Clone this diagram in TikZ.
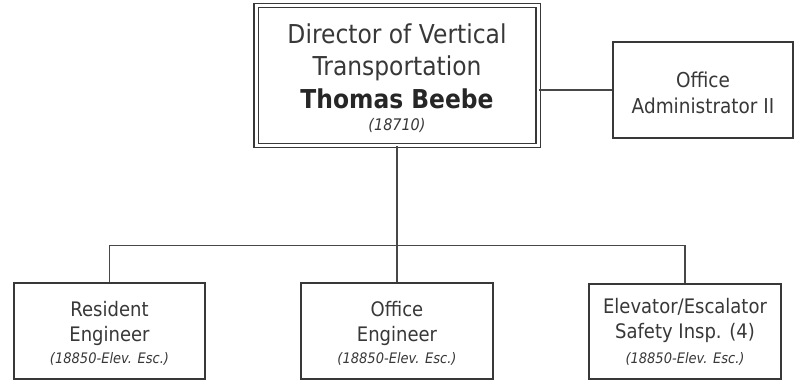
\documentclass[tikz,border=0pt]{standalone}
\usepackage{fontspec}
\setmainfont{DejaVu Sans}[FakeStretch=0.9]
\begin{document}
\begin{tikzpicture}[x=1pt,y=-1pt,
  ink/.style={draw=black!78, line width=1.2pt},
  box/.style={ink, fill=white, inner sep=0pt},
  wire/.style={draw=black!72, line width=1.1pt},
  txt/.style={anchor=base, inner sep=0pt, text=black!78},
  big/.style={txt, font=\fontsize{26}{30}\selectfont},
  mid/.style={txt, font=\fontsize{20}{24}\selectfont},
  code/.style={txt, font=\fontsize{14.5}{17}\selectfont\itshape}]
\useasboundingbox (0,0) rectangle (795,383);

% boxes
\node[box, double=white, double distance=3pt, minimum width=282pt, minimum height=140pt] (dir) at (397,75.5) {};
\node[box, minimum width=180pt, minimum height=96pt] (adm) at (703,90) {};
\node[box, minimum width=191pt, minimum height=96pt] (res) at (109.5,331) {};
\node[box, minimum width=192pt, minimum height=96pt] (offe) at (397,331) {};
\node[box, minimum width=192pt, minimum height=95pt] (elev) at (685,331.5) {};

% connectors
\draw[wire] (dir.east |- adm.west) -- (adm.west);
\draw[wire] (dir.south) -- (offe.north);
\draw[wire] (res.north) -- ++(0,-37) -| (elev.north);

% director
\node[big] (d1) at (397,43) {Director of Vertical};
\node[big] (d2) at (397,75) {Transportation};
\node[big, font=\fontsize{26}{30}\selectfont\bfseries, text=black!85] (d3) at (397,108) {Thomas Beebe};
\node[code, font=\fontsize{16}{19}\selectfont\itshape] (d4) at (397,130) {(18710)};

% office administrator
\node[mid, font=\fontsize{20.5}{24}\selectfont] (a1) at (703,87) {Office};
\node[mid, font=\fontsize{20.5}{24}\selectfont] (a2) at (703,113) {Administrator II};

% resident engineer
\node[mid] (r1) at (109.5,316) {Resident};
\node[mid] (r2) at (109.5,341) {Engineer};
\node[code] (r3) at (109.5,363) {(18850-Elev. Esc.)};

% office engineer
\node[mid] (o1) at (397,316) {Office};
\node[mid] (o2) at (397,341) {Engineer};
\node[code] (o3) at (397,363) {(18850-Elev. Esc.)};

% elevator / escalator safety inspector
\node[mid] (e1) at (685,313) {Elevator/Escalator};
\node[mid] (e2) at (685,338) {Safety Insp. (4)};
\node[code] (e3) at (685,363) {(18850-Elev. Esc.)};
\end{tikzpicture}
\end{document}
